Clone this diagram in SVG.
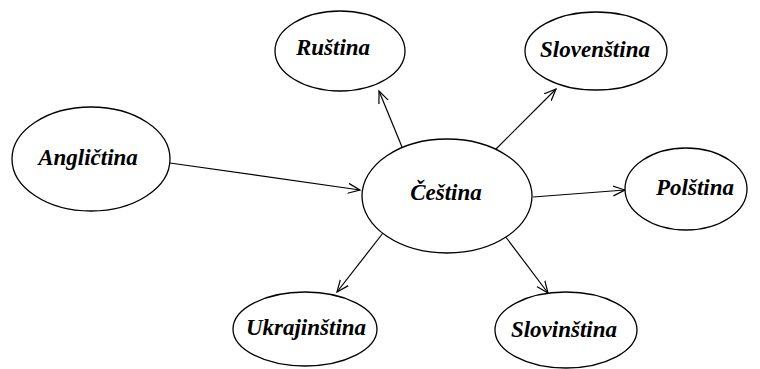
<svg xmlns="http://www.w3.org/2000/svg" width="760" height="369" viewBox="0 0 760 369">
<style>
.n ellipse{fill:#fff;stroke:#000;stroke-width:1.3}
.n text{font-family:"Liberation Serif","Times New Roman",serif;font-style:italic;font-weight:bold;font-size:23px;text-anchor:middle;fill:#000}
.e line{stroke:#000;stroke-width:1.2;marker-end:url(#ah)}
</style>
<defs>
<marker id="ah" markerUnits="userSpaceOnUse" markerWidth="14" markerHeight="12" refX="12" refY="6" orient="auto" viewBox="0 0 14 12">
<path d="M0,1 L12,6 L0,11" fill="none" stroke="#000" stroke-width="1.2"/>
</marker>
</defs>
<rect width="760" height="369" fill="#fff"/>
<g class="e" id="connectors">
<line x1="170" y1="163" x2="360" y2="190"/>
<line x1="402" y1="147" x2="379" y2="91"/>
<line x1="496" y1="149" x2="556" y2="89"/>
<line x1="533" y1="197" x2="625" y2="190"/>
<line x1="383" y1="233" x2="337" y2="292"/>
<line x1="505" y1="236" x2="548" y2="293"/>
</g>
<g class="n" id="anglictina"><ellipse cx="91" cy="159" rx="79" ry="52"/><text x="88" y="165">Angličtina</text></g>
<g class="n" id="cestina"><ellipse cx="447" cy="196" rx="85" ry="57"/><text x="446" y="200">Čeština</text></g>
<g class="n" id="rustina"><ellipse cx="340" cy="51" rx="65" ry="40"/><text x="333" y="55">Ruština</text></g>
<g class="n" id="slovenstina"><ellipse cx="596" cy="51" rx="71" ry="39"/><text x="595" y="57">Slovenština</text></g>
<g class="n" id="polstina"><ellipse cx="686" cy="189" rx="61" ry="41"/><text x="695" y="195">Polština</text></g>
<g class="n" id="ukrajinstina"><ellipse cx="305" cy="329" rx="72" ry="37"/><text x="306" y="335">Ukrajinština</text></g>
<g class="n" id="slovinstina"><ellipse cx="566" cy="330" rx="71" ry="38"/><text x="564" y="337">Slovinština</text></g>
</svg>
